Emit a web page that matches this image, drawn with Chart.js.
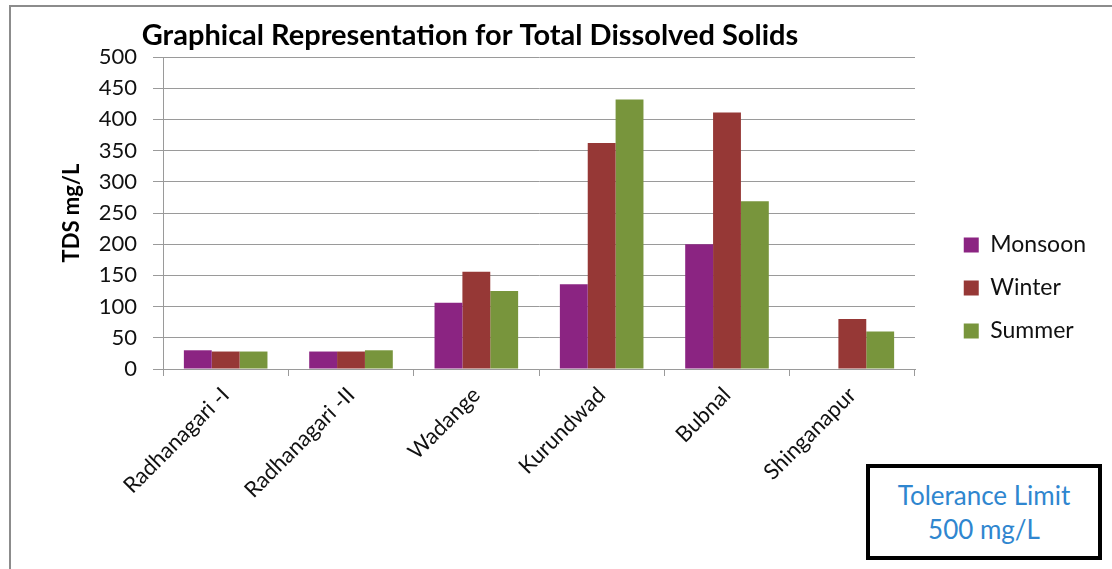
<!DOCTYPE html>
<html>
<head>
<meta charset="utf-8">
<script src="https://cdn.jsdelivr.net/npm/chart.js@4/dist/chart.umd.min.js"></script>
<style>
  html, body { margin: 0; padding: 0; background: #fff; }
  #wrap { position: relative; width: 1112px; height: 569px; overflow: hidden; }
  #frame {
    position: absolute; left: 9px; top: 5px; width: 1200px; height: 700px;
    border-left: 2px solid #8c8c8c; border-top: 2px solid #8c8c8c;
  }
  #tds { position: absolute; left: 0; top: 0; }
  #limit {
    position: absolute; left: 866px; top: 464px; width: 228px; height: 88px;
    border: 4px solid #000; background: #fff;
    font-family: Lato, "Open Sans", sans-serif; font-size: 26px; line-height: 34px;
    color: #2f86cf; text-align: center; display: flex; flex-direction: column;
    justify-content: center;
  }
</style>
</head>
<body>
<div id="wrap">
  <div id="frame"></div>
  <canvas id="tds" width="1112" height="569"></canvas>
  <div id="limit"><div>Tolerance Limit</div><div>500 mg/L</div></div>
</div>
<script>
// Sampling sites along the river
const SITES = ["Radhanagari -I", "Radhanagari -II", "Wadange", "Kurundwad", "Bubnal", "Shinganapur"];

// TDS (mg/L) per season
const MONSOON = [30, 28, 106, 136, 200, null];
const WINTER = [28, 28, 156, 362, 411, 80];
const SUMMER = [28, 30, 125, 432, 269, 60];

const Y_MIN = 0;
const Y_MAX = 500;
const Y_STEP = 50;

const FONT = 'Lato, "Open Sans", sans-serif';
const INK = "#111";
const GRID = "#9a9a9a";

/* Plot box of the original figure (px) — axes are sized to land on it */
const PLOT = { left: 163, right: 915, top: 57, bottom: 369 };
const PAD = { left: 9, right: 16, bottom: 0 };
const LEGEND_MID = 288; // legend is centred a bit above the canvas middle

/* Title sits over the whole frame, not the plot area, so it is drawn by hand */
const titlePlugin = {
  id: "frameTitle",
  afterDraw(chart) {
    const ctx = chart.ctx;
    ctx.save();
    ctx.font = "bold 29px " + FONT;
    ctx.fillStyle = "#000";
    ctx.textAlign = "center";
    ctx.textBaseline = "middle";
    ctx.fillText("Graphical Representation for Total Dissolved Solids", 470, 36);
    ctx.restore();
  },
};

/* Legend box spans down to the canvas bottom; re-centre it like the original */
const legendShift = {
  id: "legendShift",
  afterLayout(chart) {
    const lg = chart.legend;
    if (lg) lg.top = 2 * LEGEND_MID - lg.bottom;
  },
};

new Chart(document.getElementById("tds"), {
  type: "bar",
  data: {
    labels: SITES,
    datasets: [
      { label: "Monsoon", data: MONSOON, backgroundColor: "#8b2482" },
      { label: "Winter", data: WINTER, backgroundColor: "#963836" },
      { label: "Summer", data: SUMMER, backgroundColor: "#78953c" },
    ],
  },
  options: {
    responsive: false,
    animation: false,
    datasets: { bar: { categoryPercentage: 0.667, barPercentage: 1.0 } },
    layout: { padding: { top: PLOT.top, left: PAD.left, right: PAD.right, bottom: PAD.bottom } },
    plugins: {
      legend: {
        position: "right",
        labels: {
          font: { family: FONT, size: 23 },
          color: INK,
          boxWidth: 15,
          boxHeight: 15,
          padding: 20,
        },
      },
      tooltip: { enabled: false },
    },
    scales: {
      x: {
        grid: { drawOnChartArea: false, offset: true, tickLength: 7, color: GRID },
        border: { color: GRID },
        ticks: {
          font: { family: FONT, size: 22 },
          color: INK,
          maxRotation: 45,
          minRotation: 45,
          padding: 6,
        },
        afterFit: (s) => { s.height = 569 - PAD.bottom - PLOT.bottom; },
      },
      y: {
        min: Y_MIN,
        max: Y_MAX,
        grid: { color: GRID, tickLength: 10 },
        border: { color: GRID },
        ticks: {
          stepSize: Y_STEP,
          font: { family: FONT, size: 22 },
          color: INK,
          padding: 16,
        },
        title: {
          display: true,
          text: "TDS mg/L",
          font: { family: FONT, size: 22, weight: "bold" },
          color: "#000",
          padding: { top: 50, bottom: 4 },
        },
        afterFit: (s) => { s.width = PLOT.left - PAD.left; },
      },
      // empty spacer between plot and legend
      gap: {
        position: "right",
        display: true,
        grid: { display: false },
        border: { display: false },
        ticks: { display: false },
        afterFit: (s) => {
          const lw = s.chart.legend ? s.chart.legend.width : 0;
          s.width = Math.max(0, 1112 - PAD.right - lw - PLOT.right);
        },
      },
    },
  },
  plugins: [titlePlugin, legendShift],
});
</script>
</body>
</html>
